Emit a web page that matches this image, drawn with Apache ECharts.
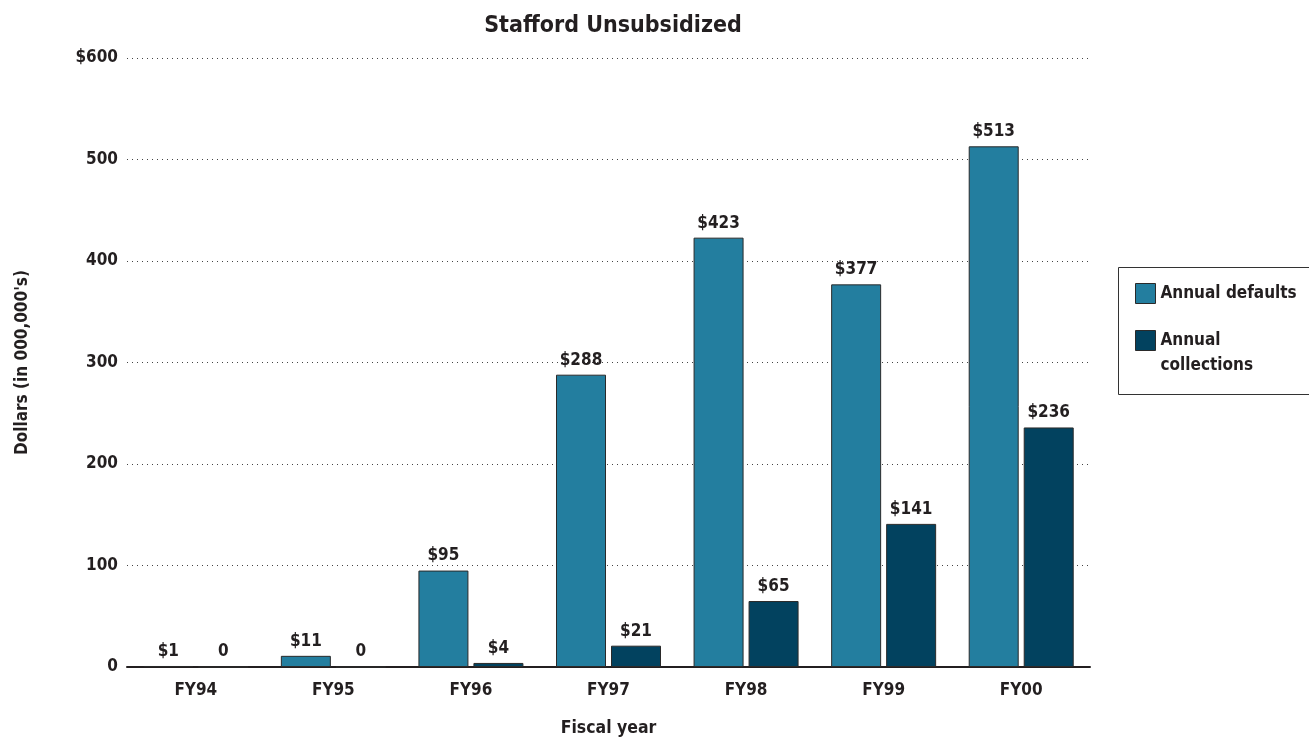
<!DOCTYPE html>
<html>
<head>
<meta charset="utf-8">
<script src="https://cdn.jsdelivr.net/npm/echarts@6/dist/echarts.min.js"></script>
<style>
  html, body { margin: 0; padding: 0; background: #fff; }
  #chart { width: 1309px; height: 738px; }
</style>
</head>
<body>
<div id="chart"></div>
<script>
// Stafford Unsubsidized loans: yearly defaults vs. collections (millions of dollars)
const categories = ['FY94', 'FY95', 'FY96', 'FY97', 'FY98', 'FY99', 'FY00'];
const annualDefaults = [1, 11, 95, 288, 423, 377, 513];
const annualCollections = [0, 0, 4, 21, 65, 141, 236];
const yTicks = { min: 0, max: 600, interval: 100 };

const FONT = '"DejaVu Sans Condensed", "Liberation Sans Narrow", Arial, sans-serif';
const TEXT = '#231f20';

const valueLabel = {
  show: true,
  position: 'top',
  distance: 6,
  color: TEXT,
  fontFamily: FONT,
  fontWeight: 'bold',
  fontSize: 17,
  formatter: p => (p.value === 0 ? '0' : '$' + p.value)
};

const legendBase = {
  orient: 'vertical',
  left: 1135,
  padding: 0,
  icon: 'rect',
  itemWidth: 20,
  itemHeight: 20,
  selectedMode: false,
  itemStyle: { borderColor: '#2a2a2a', borderWidth: 1 }
};

const chart = echarts.init(document.getElementById('chart'), null, { renderer: 'canvas' });

chart.setOption({
  backgroundColor: '#ffffff',
  animation: false,
  title: {
    text: 'Stafford Unsubsidized',
    left: 608,
    textAlign: 'center',
    top: 10,
    textStyle: { color: TEXT, fontFamily: FONT, fontWeight: 'bold', fontSize: 23 }
  },
  graphic: [{
    type: 'rect',
    shape: { x: 1118.5, y: 267.5, width: 200, height: 127 },
    style: { fill: '#ffffff', stroke: '#333333', lineWidth: 1 },
    z: 0
  }],
  legend: [Object.assign({}, legendBase, {
    data: ['Annual defaults'],
    top: 283,
    textStyle: { color: TEXT, fontFamily: FONT, fontWeight: 'bold', fontSize: 17 }
  }), Object.assign({}, legendBase, {
    data: ['Annual collections'],
    // blank first line pushes the two text lines down beside the swatch
    top: 303,
    formatter: () => '\nAnnual\ncollections',
    textStyle: { color: TEXT, fontFamily: FONT, fontWeight: 'bold', fontSize: 17, lineHeight: 25 }
  })],
  grid: { left: 127, right: 219, top: 58, bottom: 71, containLabel: false, outerBoundsMode: 'none' },
  xAxis: {
    type: 'category',
    data: categories,
    name: 'Fiscal year',
    nameLocation: 'middle',
    nameGap: 52,
    nameTextStyle: { color: TEXT, fontFamily: FONT, fontWeight: 'bold', fontSize: 17.5 },
    axisLine: { show: true, lineStyle: { color: '#231f20', width: 2 } },
    axisTick: { show: false },
    axisLabel: { color: TEXT, fontFamily: FONT, fontWeight: 'bold', fontSize: 17, margin: 15 }
  },
  yAxis: {
    type: 'value',
    min: yTicks.min,
    max: yTicks.max,
    interval: yTicks.interval,
    name: "Dollars (in 000,000's)",
    nameLocation: 'middle',
    nameGap: 96,
    nameRotate: 90,
    nameTextStyle: { color: TEXT, fontFamily: FONT, fontWeight: 'bold', fontSize: 17 },
    axisLine: { show: false },
    axisTick: { show: false },
    axisLabel: {
      color: TEXT, fontFamily: FONT, fontWeight: 'bold', fontSize: 17, margin: 9,
      formatter: v => (v === yTicks.max ? '$' + v : String(v))
    },
    splitLine: { show: true, lineStyle: { color: '#444', type: [1, 4], width: 1 } }
  },
  series: [{
    name: 'Annual defaults',
    type: 'bar',
    data: annualDefaults,
    barWidth: 50,
    barGap: '10%',
    itemStyle: { color: '#237e9f', borderColor: '#2a2a2a', borderWidth: 1 },
    label: valueLabel
  }, {
    name: 'Annual collections',
    type: 'bar',
    data: annualCollections,
    barWidth: 50,
    itemStyle: { color: '#02425f', borderColor: '#2a2a2a', borderWidth: 1 },
    label: valueLabel
  }]
});
</script>
</body>
</html>
